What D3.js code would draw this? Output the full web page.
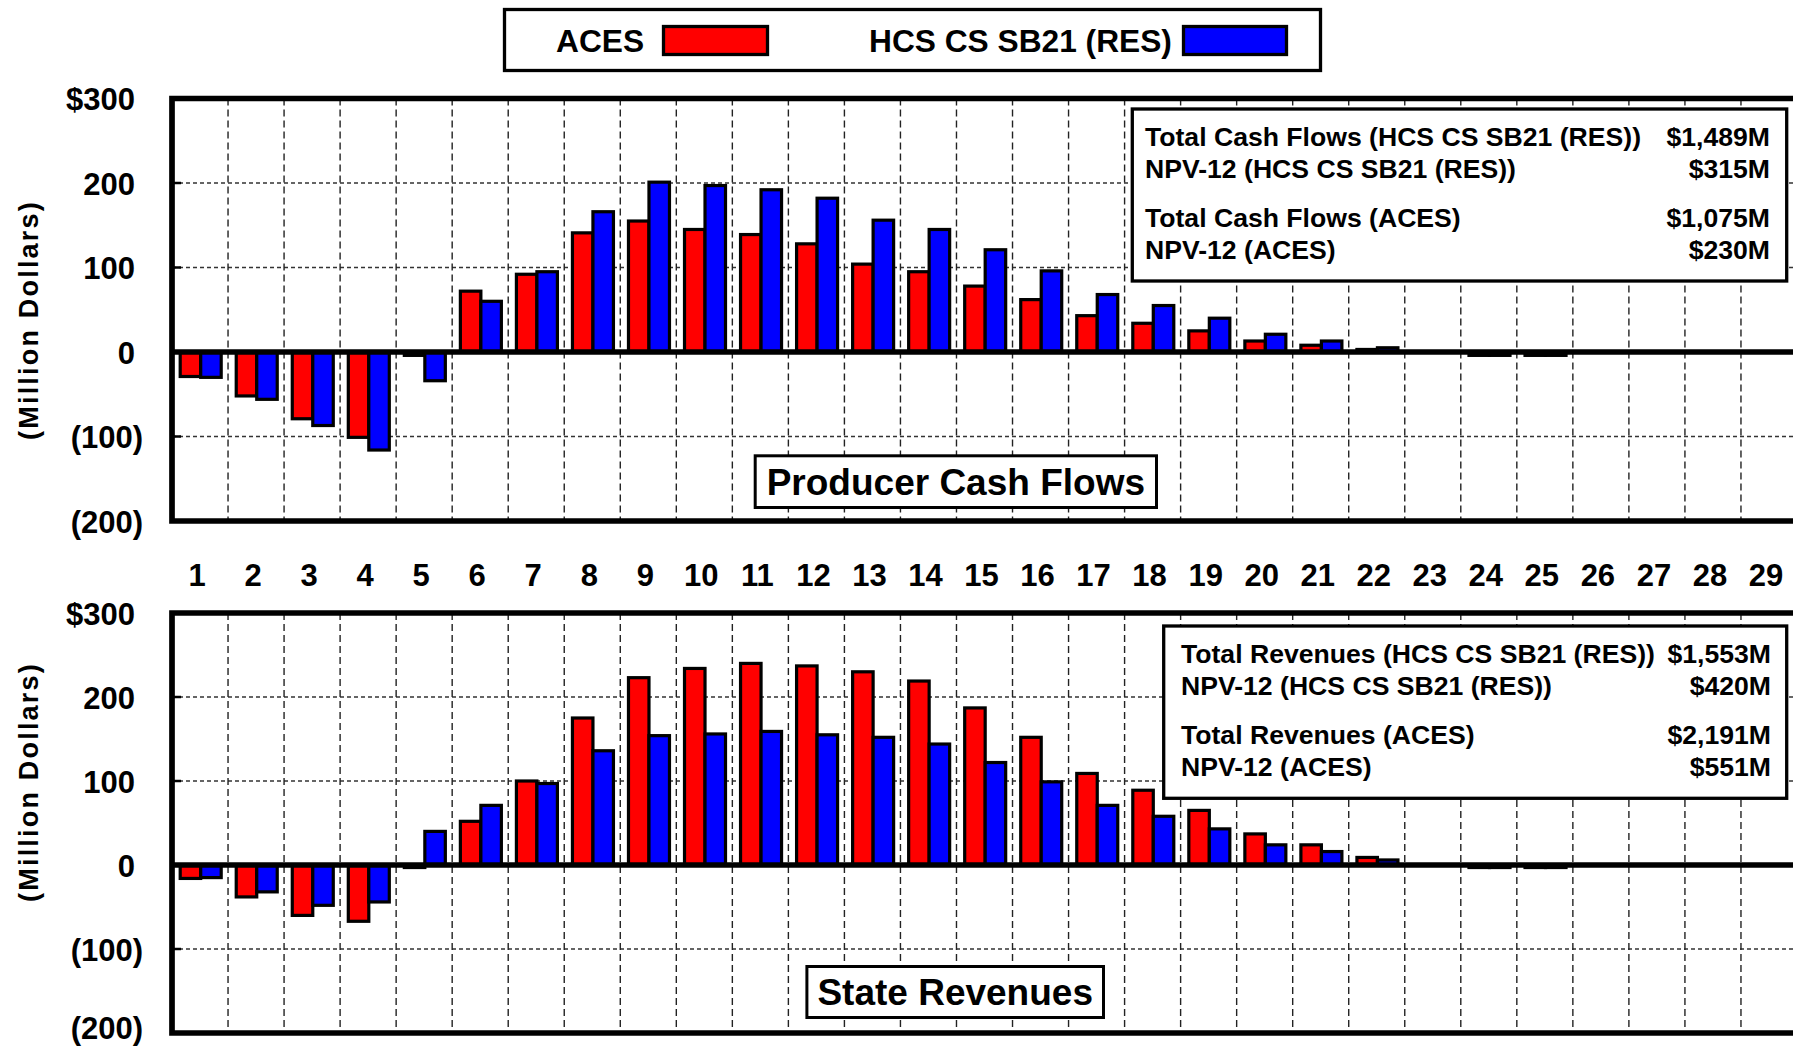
<!DOCTYPE html>
<html>
<head>
<meta charset="utf-8">
<script src="https://cdn.jsdelivr.net/npm/d3@7/dist/d3.min.js"></script>
<style>
  html, body { margin: 0; padding: 0; background: #fff; }
  svg { display: block; }
  text { font-family: "Liberation Sans", Arial, sans-serif; font-weight: bold; fill: #000; }
</style>
</head>
<body>
<script>
// years on the x axis
const years = [1, 2, 3, 4, 5, 6, 7, 8, 9, 10, 11, 12, 13, 14, 15, 16, 17, 18, 19, 20, 21, 22, 23, 24, 25, 26, 27, 28, 29];
const seriesNames = ['ACES', 'HCS CS SB21 (RES)'];
const seriesColors = ['#ff0000', '#0000ff'];

// producer cash flows, $ million
const cashAces = [-29, -52, -79, -101, -4, 72, 92, 141, 155, 145, 139, 128, 104, 95, 78, 62, 43, 34, 25, 13, 8, 3, 0, -4, -4, 0, 0, 0, 0];
const cashHcs = [-30, -56, -87, -116, -34, 60, 95, 166, 201, 197, 192, 182, 156, 145, 121, 96, 68, 55, 40, 21, 13, 5, 0, -4, -4, 0, 0, 0, 0];

// state revenues, $ million
const revAces = [-16, -38, -60, -67, -3, 52, 100, 175, 223, 234, 240, 237, 230, 219, 187, 152, 109, 89, 65, 37, 24, 9, 0, -3, -3, 0, 0, 0, 0];
const revHcs = [-15, -32, -48, -44, 40, 71, 97, 136, 154, 156, 159, 155, 152, 144, 122, 99, 71, 58, 43, 24, 16, 6, 0, -3, -3, 0, 0, 0, 0];

const yTicks = [300, 200, 100, 0, -100, -200];
const yGrid = [200, 100, -100];

const cashInfoLabels = ['Total Cash Flows (HCS CS SB21 (RES))', 'NPV-12 (HCS CS SB21 (RES))', 'Total Cash Flows (ACES)', 'NPV-12 (ACES)'];
const cashInfoValues = ['$1,489M', '$315M', '$1,075M', '$230M'];
const revInfoLabels = ['Total Revenues (HCS CS SB21 (RES))', 'NPV-12 (HCS CS SB21 (RES))', 'Total Revenues (ACES)', 'NPV-12 (ACES)'];
const revInfoValues = ['$1,553M', '$420M', '$2,191M', '$551M'];

const W = 1793, H = 1047;
const plotLeft = 172, plotRight = 1797;

const svg = d3.select('body').append('svg').attr('width', W).attr('height', H);

const x = d3.scaleBand().domain(years).range([plotLeft, plotRight]);
const xs = d3.scaleBand().domain(seriesNames).range([8.2, 49.2]);

const fmt = v => v === 300 ? '$300' : v < 0 ? '(' + (-v) + ')' : String(v);

function drawPanel(opt) {
  const y = d3.scaleLinear().domain([-200, 300]).range([opt.bottom, opt.top]);
  const g = svg.append('g');

  // gridlines
  g.selectAll('.hgrid').data(yGrid).enter().append('line')
    .attr('x1', plotLeft).attr('x2', W)
    .attr('y1', d => y(d)).attr('y2', d => y(d))
    .attr('stroke', '#333').attr('stroke-width', 1.5).attr('stroke-dasharray', '4,3');
  g.selectAll('.vgrid').data(years.slice(1)).enter().append('line')
    .attr('x1', d => x(d)).attr('x2', d => x(d))
    .attr('y1', opt.top).attr('y2', opt.bottom)
    .attr('stroke', '#222').attr('stroke-width', 1.4).attr('stroke-dasharray', '7,4');

  // info box
  const ib = opt.infoBox;
  g.append('rect').attr('x', ib.x).attr('y', ib.y).attr('width', ib.w).attr('height', ib.h)
    .attr('fill', '#fff').attr('stroke', '#000').attr('stroke-width', 3.3);
  const rowOff = [37.2, 69, 118, 149.7];
  opt.infoLabels.forEach((t, i) => {
    g.append('text').attr('x', ib.textLeft).attr('y', ib.y + rowOff[i])
      .attr('font-size', 26.6).text(t);
    g.append('text').attr('x', ib.textRight).attr('y', ib.y + rowOff[i])
      .attr('font-size', 26.6).attr('text-anchor', 'end').text(opt.infoValues[i]);
  });

  // bars
  [opt.aces, opt.hcs].forEach((vals, si) => {
    g.selectAll('.bar' + si).data(vals).enter().append('rect')
      .attr('x', (d, i) => x(years[i]) + xs(seriesNames[si]))
      .attr('width', xs.bandwidth())
      .attr('y', d => y(Math.max(0, d)))
      .attr('height', d => Math.abs(y(d) - y(0)))
      .attr('fill', seriesColors[si])
      .attr('stroke', '#000').attr('stroke-width', 3.2);
  });

  // zero line and frame
  g.append('line').attr('x1', plotLeft).attr('x2', W).attr('y1', y(0)).attr('y2', y(0))
    .attr('stroke', '#000').attr('stroke-width', 5.5);
  g.append('path')
    .attr('d', `M${W},${opt.top}H${plotLeft}V${opt.bottom}H${W}`)
    .attr('fill', 'none').attr('stroke', '#000').attr('stroke-width', 5.7);

  // small tick marks
  g.selectAll('.ytick').data(yGrid).enter().append('line')
    .attr('x1', plotLeft).attr('x2', plotLeft + 9)
    .attr('y1', d => y(d)).attr('y2', d => y(d))
    .attr('stroke', '#000').attr('stroke-width', 2.5);

  // y axis labels
  const ax = g.append('g').attr('transform', 'translate(135,0)')
    .call(d3.axisLeft(y).tickValues(yTicks).tickFormat(fmt).tickSize(0).tickPadding(0));
  ax.select('.domain').remove();
  ax.selectAll('text')
    .attr('font-size', 31).attr('font-family', null).attr('fill', '#000')
    .attr('dy', d => (d === -200 && opt.bottom > H - 20) ? '0.18em' : '0.36em')
    .attr('x', d => d < 0 ? 8 : 0);

  g.append('text')
    .attr('transform', `translate(${opt.titleX},${opt.titleY}) rotate(-90)`)
    .attr('text-anchor', 'middle').attr('dy', '0.35em')
    .attr('font-size', 27).attr('letter-spacing', 2.2)
    .text('(Million Dollars)');

  // panel title box
  const tb = opt.titleBox;
  g.append('rect').attr('x', tb.x).attr('y', tb.y).attr('width', tb.w).attr('height', tb.h)
    .attr('fill', '#fff').attr('stroke', '#000').attr('stroke-width', 3);
  g.append('text').attr('x', tb.x + tb.w / 2).attr('y', tb.baseline)
    .attr('text-anchor', 'middle').attr('font-size', 37).text(opt.title);

  return y;
}

drawPanel({
  top: 98.5, bottom: 521,
  aces: cashAces, hcs: cashHcs,
  infoLabels: cashInfoLabels, infoValues: cashInfoValues,
  infoBox: { x: 1132.3, y: 109, w: 654.4, h: 172, textLeft: 1145, textRight: 1770 },
  titleBox: { x: 755.2, y: 455.8, w: 401.3, h: 51.7, baseline: 495 },
  title: 'Producer Cash Flows',
  titleX: 29, titleY: 320
});

drawPanel({
  top: 613, bottom: 1033,
  aces: revAces, hcs: revHcs,
  infoLabels: revInfoLabels, infoValues: revInfoValues,
  infoBox: { x: 1163.7, y: 626, w: 623, h: 172.3, textLeft: 1181, textRight: 1771 },
  titleBox: { x: 806.9, y: 966.5, w: 296.6, h: 51, baseline: 1005 },
  title: 'State Revenues',
  titleX: 29, titleY: 782
});

// x axis labels between panels
svg.append('g').selectAll('text').data(years).enter().append('text')
  .attr('x', d => x(d) + x.bandwidth() / 2 - 3)
  .attr('y', 586)
  .attr('text-anchor', 'middle')
  .attr('font-size', 31)
  .text(d => d);

// legend
const lg = svg.append('g');
lg.append('rect').attr('x', 504.5).attr('y', 9.5).attr('width', 816).attr('height', 61)
  .attr('fill', '#fff').attr('stroke', '#000').attr('stroke-width', 3.3);
const legendItems = [
  { textX: 556, boxX: 663.5, boxW: 104 },
  { textX: 869, boxX: 1183.5, boxW: 103 }
];
legendItems.forEach((it, i) => {
  lg.append('text').attr('x', it.textX).attr('y', 52).attr('font-size', 31.7).text(seriesNames[i]);
  lg.append('rect').attr('x', it.boxX).attr('y', 26.5).attr('width', it.boxW).attr('height', 28)
    .attr('fill', seriesColors[i]).attr('stroke', '#000').attr('stroke-width', 3.3);
});
</script>
</body>
</html>
